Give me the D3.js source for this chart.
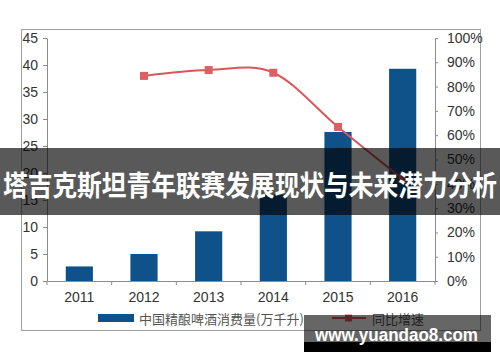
<!DOCTYPE html>
<html><head><meta charset="utf-8">
<script src="https://cdn.jsdelivr.net/npm/d3@7"></script>
<style>html,body{margin:0;padding:0;background:#fff;}svg{display:block;}</style>
</head><body>
<script>
const years = ["2011","2012","2013","2014","2015","2016"];
const consumption = [2.7, 5.0, 9.2, 16.0, 27.6, 39.3];
const growth = [null, 84.4, 86.8, 85.7, 63.4, 42.0];
const leftTicks = [0,5,10,15,20,25,30,35,40,45];
const rightTicks = [0,10,20,30,40,50,60,70,80,90,100];
const barLabel = "中国精酿啤酒消费量(万千升)";
const lineLabel = "同比增速";
const title = "塔吉克斯坦青年联赛发展现状与未来潜力分析";
const site = "www.yuandao8.com";

const W = 500, H = 362;
const svg = d3.select("body").append("svg").attr("width", W).attr("height", H);
const font = "'Liberation Sans', Arial, sans-serif";
const cjk = "'Noto Sans CJK SC', 'Noto Sans', sans-serif";

// outer frame
svg.append("rect").attr("x",21.5).attr("y",29.5).attr("width",459).attr("height",301)
  .attr("fill","none").attr("stroke","#a0a0a0").attr("stroke-width",1);

const x = d3.scaleBand().domain(years).range([47,435]).paddingInner(0.58).paddingOuter(0.29);
const yL = d3.scaleLinear().domain([0,45]).range([281,38]);
const yR = d3.scaleLinear().domain([0,100]).range([281,38]);

// bars
svg.append("g").selectAll("rect").data(years).join("rect")
  .attr("x", d => x(d)).attr("width", x.bandwidth())
  .attr("y", (d,i) => yL(consumption[i]))
  .attr("height", (d,i) => yL(0) - yL(consumption[i]))
  .attr("fill","#0f5289");

// left axis
const gL = svg.append("g").attr("transform","translate(47,0)")
  .call(d3.axisLeft(yL).tickValues(leftTicks).tickSize(4).tickSizeOuter(0).tickPadding(5));
// right axis
const gR = svg.append("g").attr("transform","translate(435,0)")
  .call(d3.axisRight(yR).tickValues(rightTicks).tickSize(3).tickSizeOuter(0).tickPadding(9).tickFormat(d => d + "%"));
// bottom axis
const gB = svg.append("g").attr("transform","translate(0,281)")
  .call(d3.axisBottom(x).tickSize(0).tickSizeOuter(0).tickPadding(11));
[gL,gR,gB].forEach(g => {
  g.selectAll("path.domain").attr("stroke","#8c8c8c");
  g.selectAll(".tick line").attr("stroke","#8c8c8c");
  g.selectAll("text").attr("font-family",font).attr("font-size",14).attr("fill","#333");
});
// boundary ticks on x axis
const bounds = d3.range(years.length + 1).map(i => 47 + i * x.step());
svg.append("g").selectAll("line").data(bounds).join("line")
  .attr("x1", d => d).attr("x2", d => d).attr("y1", 281).attr("y2", 285)
  .attr("stroke","#8c8c8c");

// line
const pts = years.map((d,i) => ({d, v: growth[i]})).filter(p => p.v !== null);
const line = d3.line().x(p => x(p.d) + x.bandwidth()/2).y(p => yR(p.v)).curve(d3.curveCardinal.tension(0));
svg.append("path").datum(pts).attr("d", line).attr("fill","none")
  .attr("stroke","#d9575a").attr("stroke-width",2);
svg.append("g").selectAll("rect").data(pts).join("rect")
  .attr("x", p => x(p.d) + x.bandwidth()/2 - 4).attr("y", p => yR(p.v) - 4)
  .attr("width",8).attr("height",8).attr("fill","#dc5f62");

// legend
svg.append("rect").attr("x",98).attr("y",314).attr("width",36).attr("height",8).attr("fill","#0f5289");
svg.append("text").attr("x",139).attr("y",318).attr("dominant-baseline","central")
  .attr("font-family",cjk).attr("font-size",13).attr("fill","#555").text(barLabel);
svg.append("line").attr("x1",332).attr("x2",366).attr("y1",318).attr("y2",318)
  .attr("stroke","#d9575a").attr("stroke-width",2);
svg.append("rect").attr("x",345).attr("y",314.5).attr("width",7).attr("height",7).attr("fill","#dc5f62");
svg.append("text").attr("x",372).attr("y",318).attr("dominant-baseline","central")
  .attr("font-family",cjk).attr("font-size",13).attr("fill","#555").text(lineLabel);

// title banner
svg.append("rect").attr("x",0).attr("y",148).attr("width",W).attr("height",67).attr("fill","rgba(0,0,0,0.65)");
svg.append("text").attr("x",3).attr("y",184).attr("dominant-baseline","central")
  .attr("font-family",cjk).attr("font-weight","bold").attr("font-size",28)
  .attr("textLength",494).attr("lengthAdjust","spacingAndGlyphs")
  .attr("fill","#fff").text(title);

// site watermark
svg.append("rect").attr("x",304).attr("y",315).attr("width",187).attr("height",27).attr("fill","rgba(0,0,0,0.6)");
svg.append("rect").attr("x",304).attr("y",342).attr("width",187).attr("height",10).attr("fill","#000");
svg.append("text").attr("x",315).attr("y",341)
  .attr("font-family",font).attr("font-weight","bold").attr("font-size",18)
  .attr("textLength",163).attr("lengthAdjust","spacingAndGlyphs")
  .attr("fill","#fff").text(site);
</script>
</body></html>
